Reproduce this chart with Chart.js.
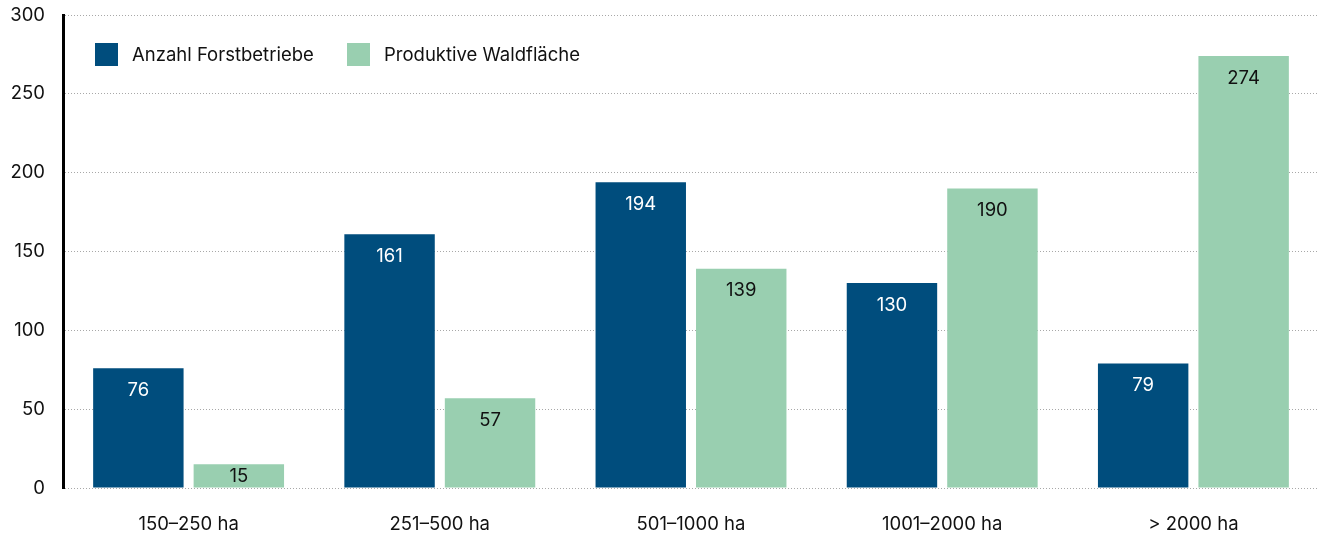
<!DOCTYPE html>
<html><head><meta charset="utf-8">
<script src="https://cdn.jsdelivr.net/npm/chart.js@4"></script>
<style>html,body{margin:0;padding:0;background:#fff}#wrap{width:1326px;height:535px}</style>
</head><body><div id="wrap"><canvas id="c" width="1326" height="535"></canvas></div>
<script>
const categories = ["150–250 ha", "251–500 ha", "501–1000 ha", "1001–2000 ha", "> 2000 ha"];
const seriesNames = ["Anzahl Forstbetriebe", "Produktive Waldfläche"];
const anzahl = [76, 161, 194, 130, 79];
const waldflaeche = [15, 57, 139, 190, 274];
const yTicks = [0, 50, 100, 150, 200, 250, 300];

const FONT = "'Inter', 'Noto Sans', sans-serif";
const BLUE = "#004d7d";
const GREEN = "#99cfb0";

const valueLabels = {
  id: "valueLabels",
  afterDatasetsDraw(chart) {
    const ctx = chart.ctx;
    ctx.save();
    ctx.font = "18.5px " + FONT;
    ctx.textAlign = "center";
    ctx.textBaseline = "middle";
    chart.data.datasets.forEach((ds, i) => {
      const meta = chart.getDatasetMeta(i);
      meta.data.forEach((bar, j) => {
        ctx.fillStyle = i === 0 ? "#ffffff" : "#111111";
        const y = Math.min(bar.y + 22, (bar.y + bar.base) / 2 + 1);
        ctx.fillText(String(ds.data[j]), bar.x, y);
      });
    });
    ctx.restore();
  }
};

const customLegend = {
  id: "customLegend",
  afterDraw(chart) {
    const ctx = chart.ctx;
    ctx.save();
    ctx.font = "18.5px " + FONT;
    ctx.textBaseline = "middle";
    const xs = [95, 347];
    chart.data.datasets.forEach((ds, i) => {
      ctx.fillStyle = ds.backgroundColor;
      ctx.fillRect(xs[i], 43, 23, 23);
      ctx.fillStyle = "#111111";
      ctx.fillText(ds.label, xs[i] + 37, 55);
    });
    ctx.restore();
  }
};

new Chart(document.getElementById("c"), {
  type: "bar",
  data: {
    labels: categories,
    datasets: [
      { label: seriesNames[0], data: anzahl, backgroundColor: BLUE },
      { label: seriesNames[1], data: waldflaeche, backgroundColor: GREEN }
    ]
  },
  options: {
    responsive: false,
    animation: false,
    devicePixelRatio: 1,
    layout: { padding: { top: 15, right: 7, left: 0, bottom: 0 } },
    plugins: { legend: { display: false }, tooltip: { enabled: false } },
    datasets: { bar: { categoryPercentage: 0.8, barPercentage: 0.9 } },
    scales: {
      x: {
        grid: { display: false },
        border: { display: false },
        ticks: { color: "#111", font: { family: FONT, size: 18.5 }, padding: 17, maxRotation: 0 },
        afterFit(scale) { scale.height = 47; scale.paddingLeft = 0; scale.paddingRight = 0; }
      },
      y: {
        min: 0, max: 300,
        afterBuildTicks(scale) { scale.ticks = yTicks.map(v => ({ value: v })); },
        grid: { color: "#a8a8a8", lineWidth: 1, drawTicks: false },
        border: { display: true, color: "#000", width: 3, dash: [1, 2] },
        ticks: { color: "#111", font: { family: FONT, size: 18.5 }, padding: 18 },
        afterFit(scale) { scale.width = 63; scale.paddingTop = 0; scale.paddingBottom = 0; }
      }
    }
  },
  plugins: [valueLabels, customLegend]
});
</script></body></html>
